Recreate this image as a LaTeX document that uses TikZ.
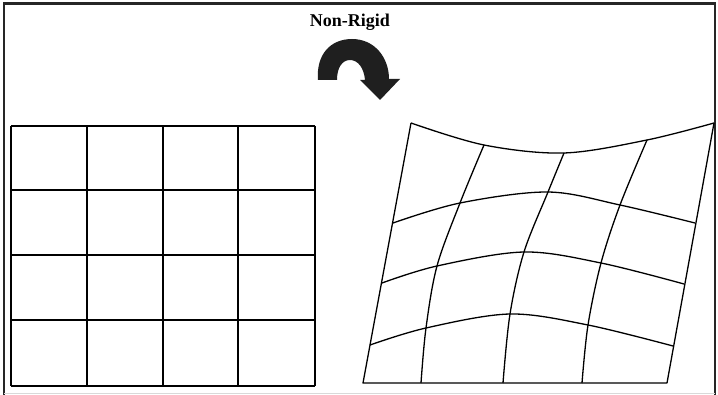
\documentclass[tikz,border=0pt]{standalone}
\usepackage{fontspec}
\setmainfont{Liberation Serif}
\begin{document}
\begin{tikzpicture}[x=1pt,y=-1pt,
  gridline/.style={line width=1.8pt,black},
  warpline/.style={line width=1.3pt,black,line join=round},
  framebar/.style={line width=2.4pt,black!85}]
\useasboundingbox (0,0) rectangle (718,395);
% frame
\draw[framebar] (4,395) -- (4,3.5) -- (716,3.5);
\draw[line width=1.5pt,black!85] (715,3.5) -- (715,395);
\draw[line width=0.8pt,black!15] (4,393) -- (715,393);
% title
\node[font=\bfseries\fontsize{18}{20}\selectfont] (title) at (350,22) {Non-Rigid};
% curved arrow
\fill[black!88] (318,80) .. controls (316,55) and (330,39) .. (352,39)
  .. controls (375,39) and (389,58) .. (389,79)
  -- (400,79) -- (380,100) -- (360,80) -- (365,80)
  .. controls (364,68) and (358,60) .. (350,60)
  .. controls (342,60) and (337,68) .. (337,80) -- cycle;
% left regular grid
\foreach \x in {11,87,163,238,315} \draw[gridline] (\x,126) -- (\x,386);
\foreach \y in {126,190,255,320,386} \draw[gridline] (11,\y) -- (315,\y);
% right warped grid
\draw[warpline] (411,123) -- (363,383) -- (667,383) -- (714,123);
\draw[warpline] plot[smooth,tension=0.55] coordinates {(411,123) (484,145) (564,153) (647,140) (714,123)};
\draw[warpline] plot[smooth,tension=0.55] coordinates {(393,223) (460,203) (548,192) (620,205) (695,223)};
\draw[warpline] plot[smooth,tension=0.55] coordinates {(382,283) (437,266) (524,252) (601,263) (684,284)};
\draw[warpline] plot[smooth,tension=0.55] coordinates {(370,345) (426,328) (510,314) (588,325) (673,346)};
\draw[warpline] plot[smooth,tension=0.55] coordinates {(484,145) (460,203) (437,266) (426,328) (421,383)};
\draw[warpline] plot[smooth,tension=0.55] coordinates {(564,153) (548,192) (524,252) (510,314) (503,383)};
\draw[warpline] plot[smooth,tension=0.55] coordinates {(647,140) (620,205) (601,263) (588,325) (582,383)};
\end{tikzpicture}
\end{document}
